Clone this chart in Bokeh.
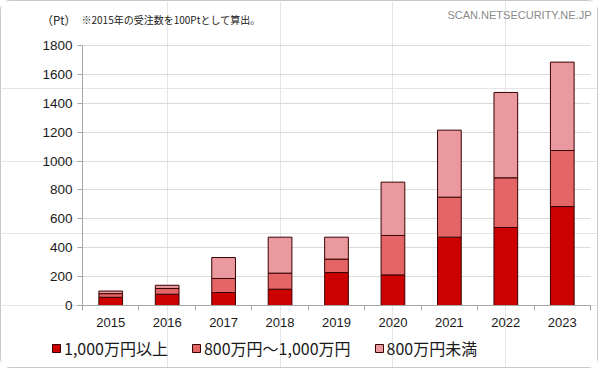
from bokeh.plotting import figure
from bokeh.models import (FixedTicker, Legend, LegendItem, Range1d, ColumnDataSource,
                          Label, LinearAxis, Grid, Segment)
from bokeh.embed import file_html
from bokeh.resources import INLINE

years = [2015, 2016, 2017, 2018, 2019, 2020, 2021, 2022, 2023]
over_10m = [57, 78, 90, 113, 228, 212, 473, 540, 685]
mid_8_10m = [25, 40, 97, 111, 93, 273, 277, 344, 388]
under_8m = [18, 22, 145, 249, 152, 369, 464, 591, 612]
y_ticks = [0, 200, 400, 600, 800, 1000, 1200, 1400, 1600, 1800]
series_labels = ["1,000万円以上", "800万円～1,000万円", "800万円未満"]
colors = ["#cc0000", "#e36565", "#ea9a9e"]
unit_text = "（Pt）"
note_text = "※2015年の受注数を100Ptとして算出。"
watermark = "SCAN.NETSECURITY.NE.JP"

JP = "Noto Sans CJK JP"
SANS = "Liberation Sans"

W, H = 598, 368
# plot-area placement inside the canvas (pixels)
AX_L, AX_R, AX_T, AX_B = 81, 589, 44, 304

x_lo, x_hi = years[0] - 0.5, years[-1] + 0.5
y_lo, y_hi = y_ticks[0], y_ticks[-1]
kx = (x_hi - x_lo) / (AX_R - AX_L)
ky = (y_hi - y_lo) / (AX_B - AX_T)
x_range = Range1d(x_lo - AX_L * kx, x_hi + (W - AX_R) * kx)
y_range = Range1d(y_lo - (H - AX_B) * ky, y_hi + AX_T * ky)

src = ColumnDataSource(dict(x=years, a=over_10m, b=mid_8_10m, c=under_8m))

p = figure(width=W, height=H, output_backend="svg", toolbar_location=None,
           x_range=x_range, y_range=y_range, x_axis_location=None, y_axis_location=None,
           title_location=None, min_border=0)
p.styles = {"border": "1px solid #c8c8c8", "border-radius": "10px"}
p.outline_line_color = None

grid = Grid(dimension=1, ticker=FixedTicker(ticks=y_ticks), grid_line_color="#dadada")
if "cross_bounds" in Grid.properties():
    grid.cross_bounds = (x_lo, x_hi)
    p.add_layout(grid)
else:
    gsrc = ColumnDataSource(dict(y=y_ticks, x0=[x_lo] * len(y_ticks), x1=[x_hi] * len(y_ticks)))
    p.add_glyph(gsrc, Segment(x0="x0", y0="y", x1="x1", y1="y", line_color="#dadada"))

rs = p.vbar_stack(["a", "b", "c"], x="x", width=0.42, source=src,
                  fill_color=colors, line_color="#3a0000", line_width=1)

ya = LinearAxis(fixed_location=x_lo, bounds=(y_lo, y_hi), ticker=FixedTicker(ticks=y_ticks))
ya.axis_line_color = "#a6a6a6"
ya.major_tick_line_color = "#a6a6a6"
ya.major_tick_out = 5
ya.major_tick_in = 0
ya.minor_tick_line_color = None
ya.major_label_text_font = SANS
ya.major_label_text_font_size = "13.5px"
ya.major_label_text_color = "#1a1a1a"
ya.major_label_standoff = 5
p.add_layout(ya, "left")

bounds = [x_lo] + [y + 0.5 for y in years]
xa = LinearAxis(fixed_location=y_lo, bounds=(x_lo, x_hi),
                ticker=FixedTicker(ticks=years, minor_ticks=bounds))
xa.axis_line_color = "#a6a6a6"
xa.major_tick_line_color = None
xa.major_tick_out = 0
xa.major_tick_in = 0
xa.minor_tick_line_color = "#a6a6a6"
xa.minor_tick_out = 5
xa.minor_tick_in = 0
xa.major_label_text_font = SANS
xa.major_label_text_font_size = "13px"
xa.major_label_text_color = "#1a1a1a"
xa.major_label_standoff = 7
p.add_layout(xa, "below")

legend = Legend(items=[LegendItem(label=series_labels[i], renderers=[rs[i]]) for i in range(3)],
                orientation="horizontal", location=(50, 9))
legend.border_line_color = None
legend.background_fill_alpha = 0
legend.padding = 0
legend.margin = 0
legend.spacing = 23
legend.label_standoff = 3
legend.glyph_width = 10
legend.glyph_height = 10
legend.label_text_font = JP
legend.label_text_font_size = "16px"
legend.label_text_color = "#1a1a1a"
p.add_layout(legend)

p.add_layout(Label(x=40, y=H - 18, x_units="screen", y_units="screen", text=unit_text,
                   text_font=JP, text_font_size="11.5px", text_baseline="middle", text_color="#222"))
p.add_layout(Label(x=80, y=H - 18, x_units="screen", y_units="screen", text=note_text,
                   text_font=JP, text_font_size="10px", text_baseline="middle", text_color="#222"))
p.add_layout(Label(x=590, y=H - 13, x_units="screen", y_units="screen", text=watermark,
                   text_font=SANS, text_font_size="11px", text_baseline="middle",
                   text_align="right", text_color="#8a8a8a"))

open("out.html", "w").write(file_html(p, INLINE))
